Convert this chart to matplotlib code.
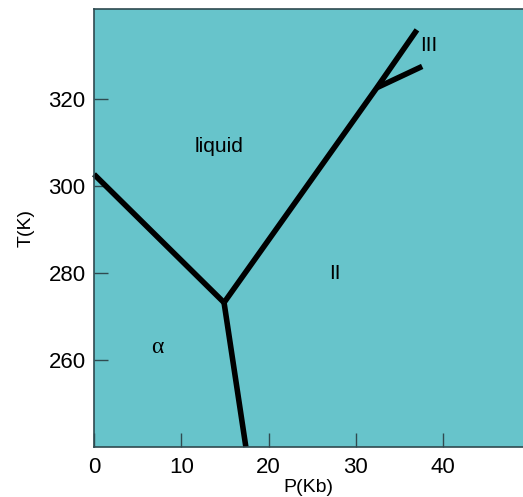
import matplotlib
matplotlib.use("Agg")
import matplotlib.pyplot as plt

# phase boundaries (P in Kb, T in K)
liquid_alpha_p = [0.0, 14.9]
liquid_alpha_t = [302.7, 273.2]

alpha_ii_p = [14.9, 17.4]
alpha_ii_t = [273.2, 240.0]

liquid_ii_p = [14.9, 32.4, 37.0]
liquid_ii_t = [273.2, 322.6, 335.9]

ii_iii_p = [32.4, 37.6]
ii_iii_t = [322.6, 327.5]

phase_names = ["liquid", "II", "III", "α"]
phase_p = [14.3, 27.6, 38.3, 7.2]
phase_t = [309.2, 280.0, 332.2, 262.8]

x_ticks = [0, 10, 20, 30, 40]
y_ticks = [260, 280, 300, 320]

plt.rcParams["font.family"] = ["Liberation Sans", "DejaVu Sans"]

bg = "#67c4cb"
edge = "#2f4a50"

fig = plt.figure(figsize=(5.23, 4.97), dpi=100)
ax = fig.add_axes([94 / 523, 1 - 447 / 497, 1 - 94 / 523, (447 - 9) / 497])
ax.set_facecolor(bg)

for p, t in [(liquid_alpha_p, liquid_alpha_t), (alpha_ii_p, alpha_ii_t),
             (liquid_ii_p, liquid_ii_t), (ii_iii_p, ii_iii_t)]:
    ax.plot(p, t, color="black", lw=4.0, solid_capstyle="butt",
            solid_joinstyle="miter", clip_on=False)

for name, p, t in zip(phase_names, phase_p, phase_t):
    if name == "α":
        ax.text(p, t, name, fontsize=17, ha="center", va="center",
                family=["Liberation Serif", "DejaVu Serif"])
    else:
        ax.text(p, t, name, fontsize=15, ha="center", va="center")

ax.set_xlim(0, 49.15)
ax.set_ylim(240, 340.7)
ax.set_xticks(x_ticks)
ax.set_yticks(y_ticks)
ax.tick_params(direction="in", length=10, width=1, color=edge,
               labelsize=16, pad=7)
ax.tick_params(axis="y", pad=6)

ax.spines["right"].set_visible(False)
for s in ["left", "top", "bottom"]:
    ax.spines[s].set_color(edge)
    ax.spines[s].set_linewidth(1.2)

ax.set_xlabel("P(Kb)", fontsize=14, labelpad=1)
ax.set_ylabel("T(K)", fontsize=14, labelpad=10)

fig.savefig("out.png", dpi=100)
